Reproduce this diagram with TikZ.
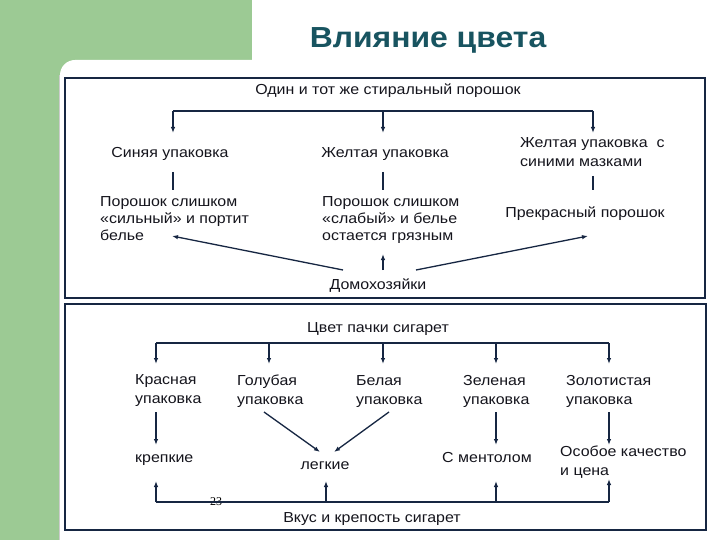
\documentclass[tikz,border=0pt]{standalone}
\usepackage{fontspec}
\setmainfont{Liberation Sans}[FakeStretch=1.1]
\newfontfamily\serifnum{Liberation Serif}
\usetikzlibrary{arrows.meta}
\definecolor{bggreen}{RGB}{156,202,148}
\definecolor{linec}{RGB}{22,38,66}
\definecolor{titlec}{RGB}{24,84,96}
\definecolor{textc}{RGB}{20,20,28}
\tikzset{
  ln/.style={draw=linec, line width=1.3pt},
  arr/.style={ln, -{Latex[length=6pt,width=4.5pt]}},
  txt/.style={inner sep=0pt, text=textc, font=\fontsize{14.5}{17}\selectfont, align=left},
  txtb/.style={inner sep=0pt, text=textc, font=\fontsize{14.5}{19}\selectfont, align=left},
  frame/.style={draw=linec, line width=1.2pt},
}
\begin{document}
\begin{tikzpicture}[x=1pt,y=-1pt]
\useasboundingbox (0,0) rectangle (720,540);
\fill[white] (0,0) rectangle (720,540);
% background
\fill[bggreen] (0,0) rectangle (252,80);
\fill[bggreen] (0,0) rectangle (60,540);
\fill[white,rounded corners=15pt] (60,60) rectangle (760,600);
\draw[gray!40, line width=1pt] (59.5,75) -- (59.5,540);
% title
\node[inner sep=0pt, font=\bfseries\fontsize{29}{34}\selectfont, text=titlec] (title) at (428,40) {Влияние цвета};
% frames
\draw[frame] (65,78) rectangle (705,298);
\draw[frame] (65,304) rectangle (706,530);
% ---------- top part
\node[txt] (one) at (388,91) {Один и тот же стиральный порошок};
\node[txt] (s1) at (170,154) {Синяя упаковка};
\node[txt] (s2) at (385,154) {Желтая упаковка};
\node[txt, anchor=west, font=\fontsize{14.5}{19}\selectfont] (s3) at (520,152) {Желтая упаковка\ \ с\\синими мазками};
\node[txt, anchor=north west] (p1) at (100,196) {Порошок слишком\\«сильный» и портит\\белье};
\node[txt, anchor=north west] (p2) at (322,196) {Порошок слишком\\«слабый» и белье\\остается грязным};
\node[txt] (p3) at (585,214) {Прекрасный порошок};
\node[txt] (dom) at (378,286) {Домохозяйки};
\coordinate (b1) at (173,111);
\coordinate (b2) at (383,111);
\coordinate (b3) at (593,111);
\draw[ln] (b1) -- (b3);
\draw[arr] (b1) -- (173,133);
\draw[arr] (b2) -- (383,133);
\draw[arr] (b3) -- (593,133);
\draw[ln] (173,172) -- (173,190);
\draw[ln] (383,172) -- (383,190);
\draw[ln] (593,176) -- (593,190);
\coordinate (d1) at (343,270);
\coordinate (d2) at (383,270);
\coordinate (d3) at (416,270);
\draw[arr] (d1) -- (172,236);
\draw[arr] (d2) -- (383,254);
\draw[arr] (d3) -- (588,236);
% ---------- bottom part
\node[txt] (cig) at (378,329) {Цвет пачки сигарет};
\node[txtb, anchor=west] (r1) at (135,391) {Красная\\упаковка};
\node[txtb, anchor=west] (r2) at (237,391) {Голубая\\упаковка};
\node[txtb, anchor=west] (r3) at (356,392) {Белая\\упаковка};
\node[txtb, anchor=west] (r4) at (463,391) {Зеленая\\упаковка};
\node[txtb, anchor=west] (r5) at (566,391) {Золотистая\\упаковка};
\node[txtb, anchor=west] (krep) at (135,460) {крепкие};
\node[txtb] (leg) at (325,466) {легкие};
\node[txtb] (ment) at (487,458) {С ментолом};
\node[txtb, anchor=west] (os) at (560,462) {Особое качество\\и цена};
\node[txt] (vk) at (372,519) {Вкус и крепость сигарет};
\node[inner sep=0pt, font=\serifnum\fontsize{12}{14}\selectfont] (num) at (216,502) {23};
\coordinate (c1) at (156,343);
\coordinate (c2) at (269,343);
\coordinate (c3) at (383,343);
\coordinate (c4) at (496,343);
\coordinate (c5) at (609,343);
\draw[ln] (c1) -- (c5);
\foreach \c in {c1,c2,c3,c4,c5} \draw[arr] (\c) -- ++(0,21);
\draw[arr] (156,412) -- (156,445);
\draw[arr] (496,412) -- (496,445);
\draw[arr] (609,412) -- (609,445);
\draw[arr] (264,412) -- (320,452);
\draw[arr] (389,412) -- (334,452);
\coordinate (e1) at (156,502);
\coordinate (e2) at (326,502);
\coordinate (e3) at (496,502);
\coordinate (e4) at (609,502);
\draw[ln] (e1) -- (e4);
\draw[arr] (e1) -- (156,481);
\draw[arr] (e2) -- (326,481);
\draw[arr] (e3) -- (496,481);
\draw[arr] (e4) -- (609,479);
\end{tikzpicture}
\end{document}
